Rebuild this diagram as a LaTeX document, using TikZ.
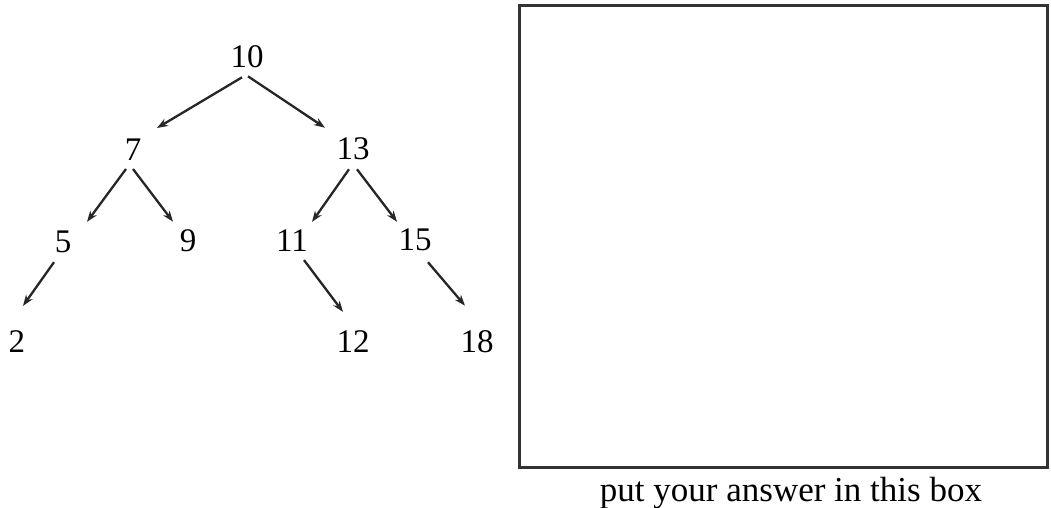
\documentclass[tikz,border=0pt]{standalone}
\usepackage{fontspec}
\setmainfont{Liberation Serif}
\usetikzlibrary{arrows.meta,calc}
\begin{document}
\begin{tikzpicture}[x=1pt,y=-1pt,
  num/.style={inner sep=0pt,font=\fontsize{33}{33}\selectfont},
  arr/.style={line width=2.3pt,-{Stealth[length=11pt,width=8pt]},color=black!85},
  answerbox/.style={draw,line width=3pt,inner sep=0pt,minimum width=528pt,minimum height=462pt,color=black!80},
  caption/.style={inner sep=0pt,font=\fontsize{35}{35}\selectfont,anchor=base}]
\useasboundingbox (0,0) rectangle (1051,507);
\node[num] (n10) at (247,57) {10};
\node[num] (n7) at (133,150) {7};
\node[num] (n13) at (353,149) {13};
\node[num] (n5) at (63,242) {5};
\node[num] (n9) at (188,241) {9};
\node[num] (n11) at (292,241) {11};
\node[num] (n15) at (415,240) {15};
\node[num] (n2) at (17,342) {2};
\node[num] (n12) at (353,342) {12};
\node[num] (n18) at (477,342) {18};
\draw[arr] ($(n10.south)+(-5,9)$) -- ($(n7.north)+(24,-11)$);
\draw[arr] ($(n10.south)+(1,8)$) -- ($(n13.north)+(-28,-10)$);
\draw[arr] ($(n7.south)+(-7,8)$) -- ($(n5.north)+(24,-9)$);
\draw[arr] ($(n7.south)+(0,8)$) -- ($(n9.north)+(-15,-8)$);
\draw[arr] ($(n13.south)+(-4,9)$) -- ($(n11.north)+(20,-8)$);
\draw[arr] ($(n13.south)+(4,9)$) -- ($(n15.north)+(-18,-7)$);
\draw[arr] ($(n5.south)+(-9,9)$) -- ($(n2.north)+(6,-25)$);
\draw[arr] ($(n11.south)+(12,8)$) -- ($(n12.north)+(-10,-19)$);
\draw[arr] ($(n15.south)+(13,11)$) -- ($(n18.north)+(-12,-25)$);
\node[answerbox] (box) at (783,236) {};
\node[caption] (cap) at (791,501) {put your answer in this box};
\end{tikzpicture}
\end{document}
